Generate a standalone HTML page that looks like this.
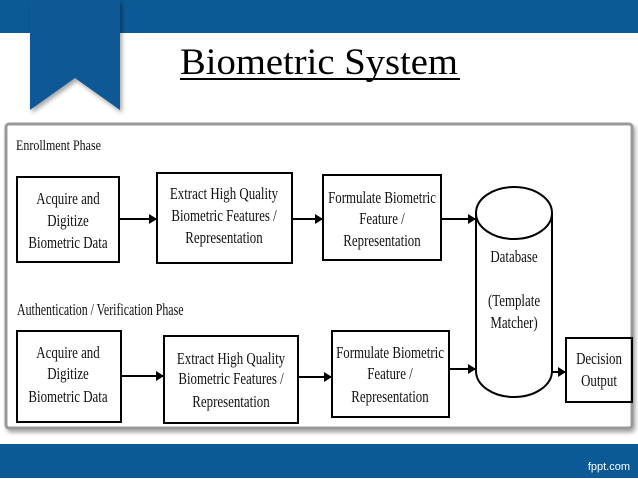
<!DOCTYPE html>
<html><head><style>
html,body{margin:0;padding:0;background:#fff;}
svg{display:block}
.t{font-family:"Liberation Serif",serif;font-size:17px;fill:#111}
</style></head><body>
<svg width="638" height="479" viewBox="0 0 638 479" xmlns="http://www.w3.org/2000/svg">
<defs>
<marker id="a" markerWidth="8" markerHeight="10" refX="7" refY="5" orient="auto" markerUnits="userSpaceOnUse"><path d="M0,0 L8,5 L0,10 z" fill="#000"/></marker>
<filter id="s" x="-10%" y="-10%" width="120%" height="130%"><feDropShadow dx="2" dy="3" stdDeviation="2" flood-opacity="0.35"/></filter>
</defs>
<rect x="0" y="0" width="638" height="33" fill="#0b5995"/>
<path d="M30,0 H120 V110 L75,78 L30,110 Z" fill="#0b5995" filter="url(#s)"/>
<text x="180" y="74" font-family="Liberation Serif,serif" font-size="37" fill="#000" textLength="278" lengthAdjust="spacingAndGlyphs">Biometric System</text>
<rect x="180" y="78" width="280" height="2" fill="#000"/>
<rect x="6" y="124" width="626" height="304" fill="#fff" stroke="#999" stroke-width="3" rx="3" filter="url(#s)"/>
<rect x="0" y="444" width="638" height="34" fill="#0b5995"/>
<text x="630" y="470" text-anchor="end" font-family="Liberation Sans,sans-serif" font-size="11" fill="#fff">fppt.com</text>
<g class="t">
<text x="16" y="150" font-size="15" transform="translate(16,0) scale(0.8,1) translate(-16,0)">Enrollment Phase</text>
<text x="17" y="315" font-size="17" transform="translate(17,0) scale(0.7,1) translate(-17,0)">Authentication / Verification Phase</text>
</g>
<g fill="none" stroke="#000" stroke-width="2">
<rect x="17" y="177" width="102" height="85"/>
<rect x="157" y="173" width="135" height="90"/>
<rect x="323" y="175" width="118" height="85"/>
<path d="M476,213 V371 A38,26 0 0 0 552,371 V213"/>
<ellipse cx="514" cy="213" rx="38" ry="26"/>
<rect x="17" y="331" width="104" height="91"/>
<rect x="164" y="336" width="134" height="87"/>
<rect x="332" y="331" width="117" height="86"/>
<rect x="566" y="338" width="66" height="64"/>
<line x1="119" y1="219" x2="156" y2="219" marker-end="url(#a)"/>
<line x1="292" y1="219" x2="322" y2="219" marker-end="url(#a)"/>
<line x1="441" y1="219" x2="475" y2="219" marker-end="url(#a)"/>
<line x1="121" y1="376" x2="163" y2="376" marker-end="url(#a)"/>
<line x1="298" y1="377" x2="331" y2="377" marker-end="url(#a)"/>
<line x1="449" y1="369" x2="475" y2="369" marker-end="url(#a)"/>
<line x1="552" y1="372" x2="565" y2="372" marker-end="url(#a)"/>
</g>
<g class="t" text-anchor="middle">
<g transform="translate(68,0) scale(0.76,1)">
<text x="0" y="204">Acquire and</text><text x="0" y="226">Digitize</text><text x="0" y="248">Biometric Data</text>
<text x="0" y="358">Acquire and</text><text x="0" y="379">Digitize</text><text x="0" y="402">Biometric Data</text>
</g>
<g transform="translate(224,0) scale(0.76,1)">
<text x="0" y="199">Extract High Quality</text><text x="0" y="221">Biometric Features /</text><text x="0" y="243">Representation</text>
</g>
<g transform="translate(231,0) scale(0.76,1)">
<text x="0" y="364">Extract High Quality</text><text x="0" y="384">Biometric Features /</text><text x="0" y="407">Representation</text>
</g>
<g transform="translate(382,0) scale(0.76,1)">
<text x="0" y="203">Formulate Biometric</text><text x="0" y="224">Feature /</text><text x="0" y="246">Representation</text>
</g>
<g transform="translate(390,0) scale(0.76,1)">
<text x="0" y="358">Formulate Biometric</text><text x="0" y="379">Feature /</text><text x="0" y="402">Representation</text>
</g>
<g transform="translate(514,0) scale(0.76,1)">
<text x="0" y="262">Database</text><text x="0" y="306">(Template</text><text x="0" y="328">Matcher)</text>
</g>
<g transform="translate(599,0) scale(0.76,1)">
<text x="0" y="364">Decision</text><text x="0" y="386">Output</text>
</g>
</g>
</svg>
</body></html>
